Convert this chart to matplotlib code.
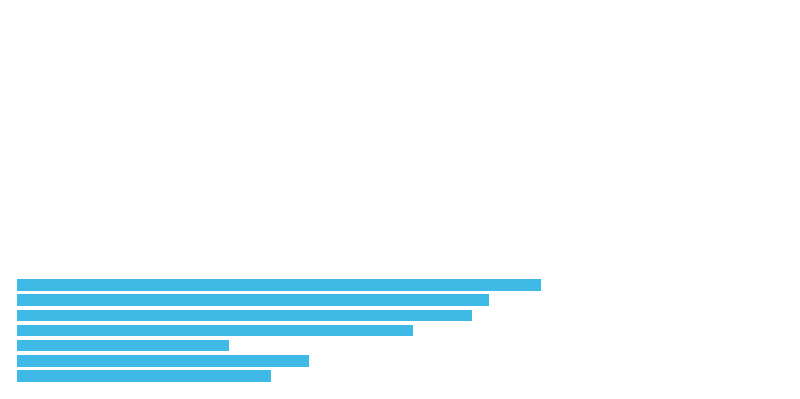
import matplotlib
matplotlib.use("Agg")
import matplotlib.pyplot as plt

# bar lengths, top to bottom (arbitrary units)
categories = ["A", "B", "C", "D", "E", "F", "G"]
values = [524, 472, 455, 396, 212, 292, 254]

fig = plt.figure(figsize=(8, 3.99), dpi=100)
ax = fig.add_axes([17 / 800, 0.0386, 766 / 800, 0.266])

ax.barh(range(len(values)), values, height=0.76, color="#3FB9E6")
ax.set_ylim(len(values) - 0.5, -0.5)
ax.set_xlim(0, 766)
ax.axis("off")

fig.savefig("out.png", dpi=100)
